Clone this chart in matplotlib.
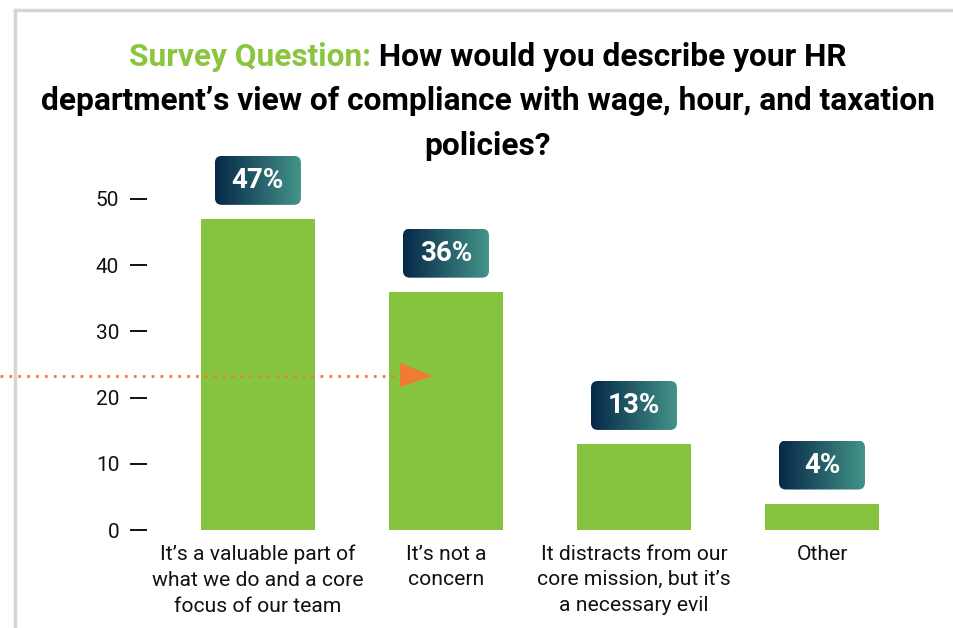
import numpy as np
import matplotlib
matplotlib.use("Agg")
import matplotlib.pyplot as plt
from matplotlib.patches import FancyBboxPatch, Polygon
from matplotlib.lines import Line2D
from matplotlib.colors import LinearSegmentedColormap

plt.rcParams['font.family'] = ['Roboto', 'DejaVu Sans']

categories = [
    "It\u2019s a valuable part of\nwhat we do and a core\nfocus of our team",
    "It\u2019s not a\nconcern",
    "It distracts from our\ncore mission, but it\u2019s\na necessary evil",
    "Other",
]
values = [47, 36, 13, 4]
yticks = [0, 10, 20, 30, 40, 50]

GREEN = "#86C440"
TITLE_GREEN = "#8BC53F"
ORANGE = "#EE7D31"
BORDER = "#DAD2D3"
grad = LinearSegmentedColormap.from_list("navy_teal", ["#062848", "#44958A"])

W, H = 954, 628
fig = plt.figure(figsize=(W / 100, H / 100), dpi=100)
fig.patch.set_facecolor("white")

# axes placement in pixels
ax_left, ax_right, ax_bottom = 147, 916, 530
ymax = 57
px_per_unit = 331 / 50
ax_top = ax_bottom - ymax * px_per_unit
ax = fig.add_axes([ax_left / W, 1 - ax_bottom / H,
                   (ax_right - ax_left) / W, (ax_bottom - ax_top) / H])

x = np.arange(len(values))
ax.bar(x, values, width=0.606, color=GREEN, zorder=2)

for s in ax.spines.values():
    s.set_visible(False)
ax.set_yticks(yticks)
ax.set_yticklabels([str(t) for t in yticks], fontsize=15, color="#111111")
ax.tick_params(axis="y", length=12, width=1.4, pad=8, color="#111111")
ax.set_xticks(x)
ax.set_xticklabels(categories, fontsize=15.2, color="#111111", linespacing=1.45)
ax.tick_params(axis="x", length=0, pad=10.5)

# value badges with horizontal gradient and rounded corners
x_per_px = 1 / 188
y_per_px = 1 / px_per_unit
bw, bh = 86 * x_per_px, 49 * y_per_px
gap = 14 * y_per_px
gx = np.linspace(0, 1, 256).reshape(1, -1)
for xi, v in zip(x, values):
    x0, y0 = xi - bw / 2, v + gap
    box = FancyBboxPatch((x0, y0), bw, bh,
                         boxstyle=f"round,pad=0,rounding_size={7 * x_per_px}",
                         mutation_aspect=y_per_px / x_per_px,
                         facecolor="none", edgecolor="none", zorder=3,
                         clip_on=False)
    ax.add_patch(box)
    im = ax.imshow(gx, cmap=grad, extent=(x0, x0 + bw, y0, y0 + bh),
                   aspect="auto", zorder=3, clip_on=True)
    im.set_clip_path(box)
    ax.text(xi, y0 + bh / 2, f"{v}%", ha="center", va="center",
            color="white", fontsize=20, fontweight="bold", zorder=4)
ax.set_xlim(-0.59, 3.5)
ax.set_ylim(0, ymax)

# frame lines
fig.add_artist(Line2D([15 / W, 1], [1 - 10 / H, 1 - 10 / H], color=BORDER, lw=2.5))
fig.add_artist(Line2D([15 / W, 15 / W], [1 - 10 / H, 0], color=BORDER, lw=2.5))

# dotted pointer with arrowhead
yy = 1 - 376 / H
fig.add_artist(Line2D([0, 400 / W], [yy, yy], color=ORANGE, lw=2,
                      linestyle=(0, (1, 2.2)), zorder=5))
fig.add_artist(Polygon([[400 / W, 1 - 363 / H], [433 / W, yy], [400 / W, 1 - 387 / H]],
                       closed=True, facecolor=ORANGE, edgecolor="none",
                       transform=fig.transFigure, zorder=5))

# title
cx = 488 / W
fs = 22.8
t1a = fig.text(0, 1 - 57 / H, "Survey Question:", color=TITLE_GREEN,
               fontsize=fs, fontweight="bold", va="center", ha="left")
t1b = fig.text(0, 1 - 57 / H, " How would you describe your HR", color="black",
               fontsize=fs, fontweight="bold", va="center", ha="left")
r = fig.canvas.get_renderer()
wa = t1a.get_window_extent(r).width
wb = t1b.get_window_extent(r).width
start = cx * W - (wa + wb) / 2
t1a.set_x(start / W)
t1b.set_x((start + wa) / W)
fig.text(cx, 1 - 101 / H,
         "department\u2019s view of compliance with wage, hour, and taxation",
         color="black", fontsize=fs, fontweight="bold", va="center", ha="center")
fig.text(cx, 1 - 146 / H, "policies?", color="black", fontsize=fs,
         fontweight="bold", va="center", ha="center")

fig.savefig("out.png", dpi=100, facecolor="white")
